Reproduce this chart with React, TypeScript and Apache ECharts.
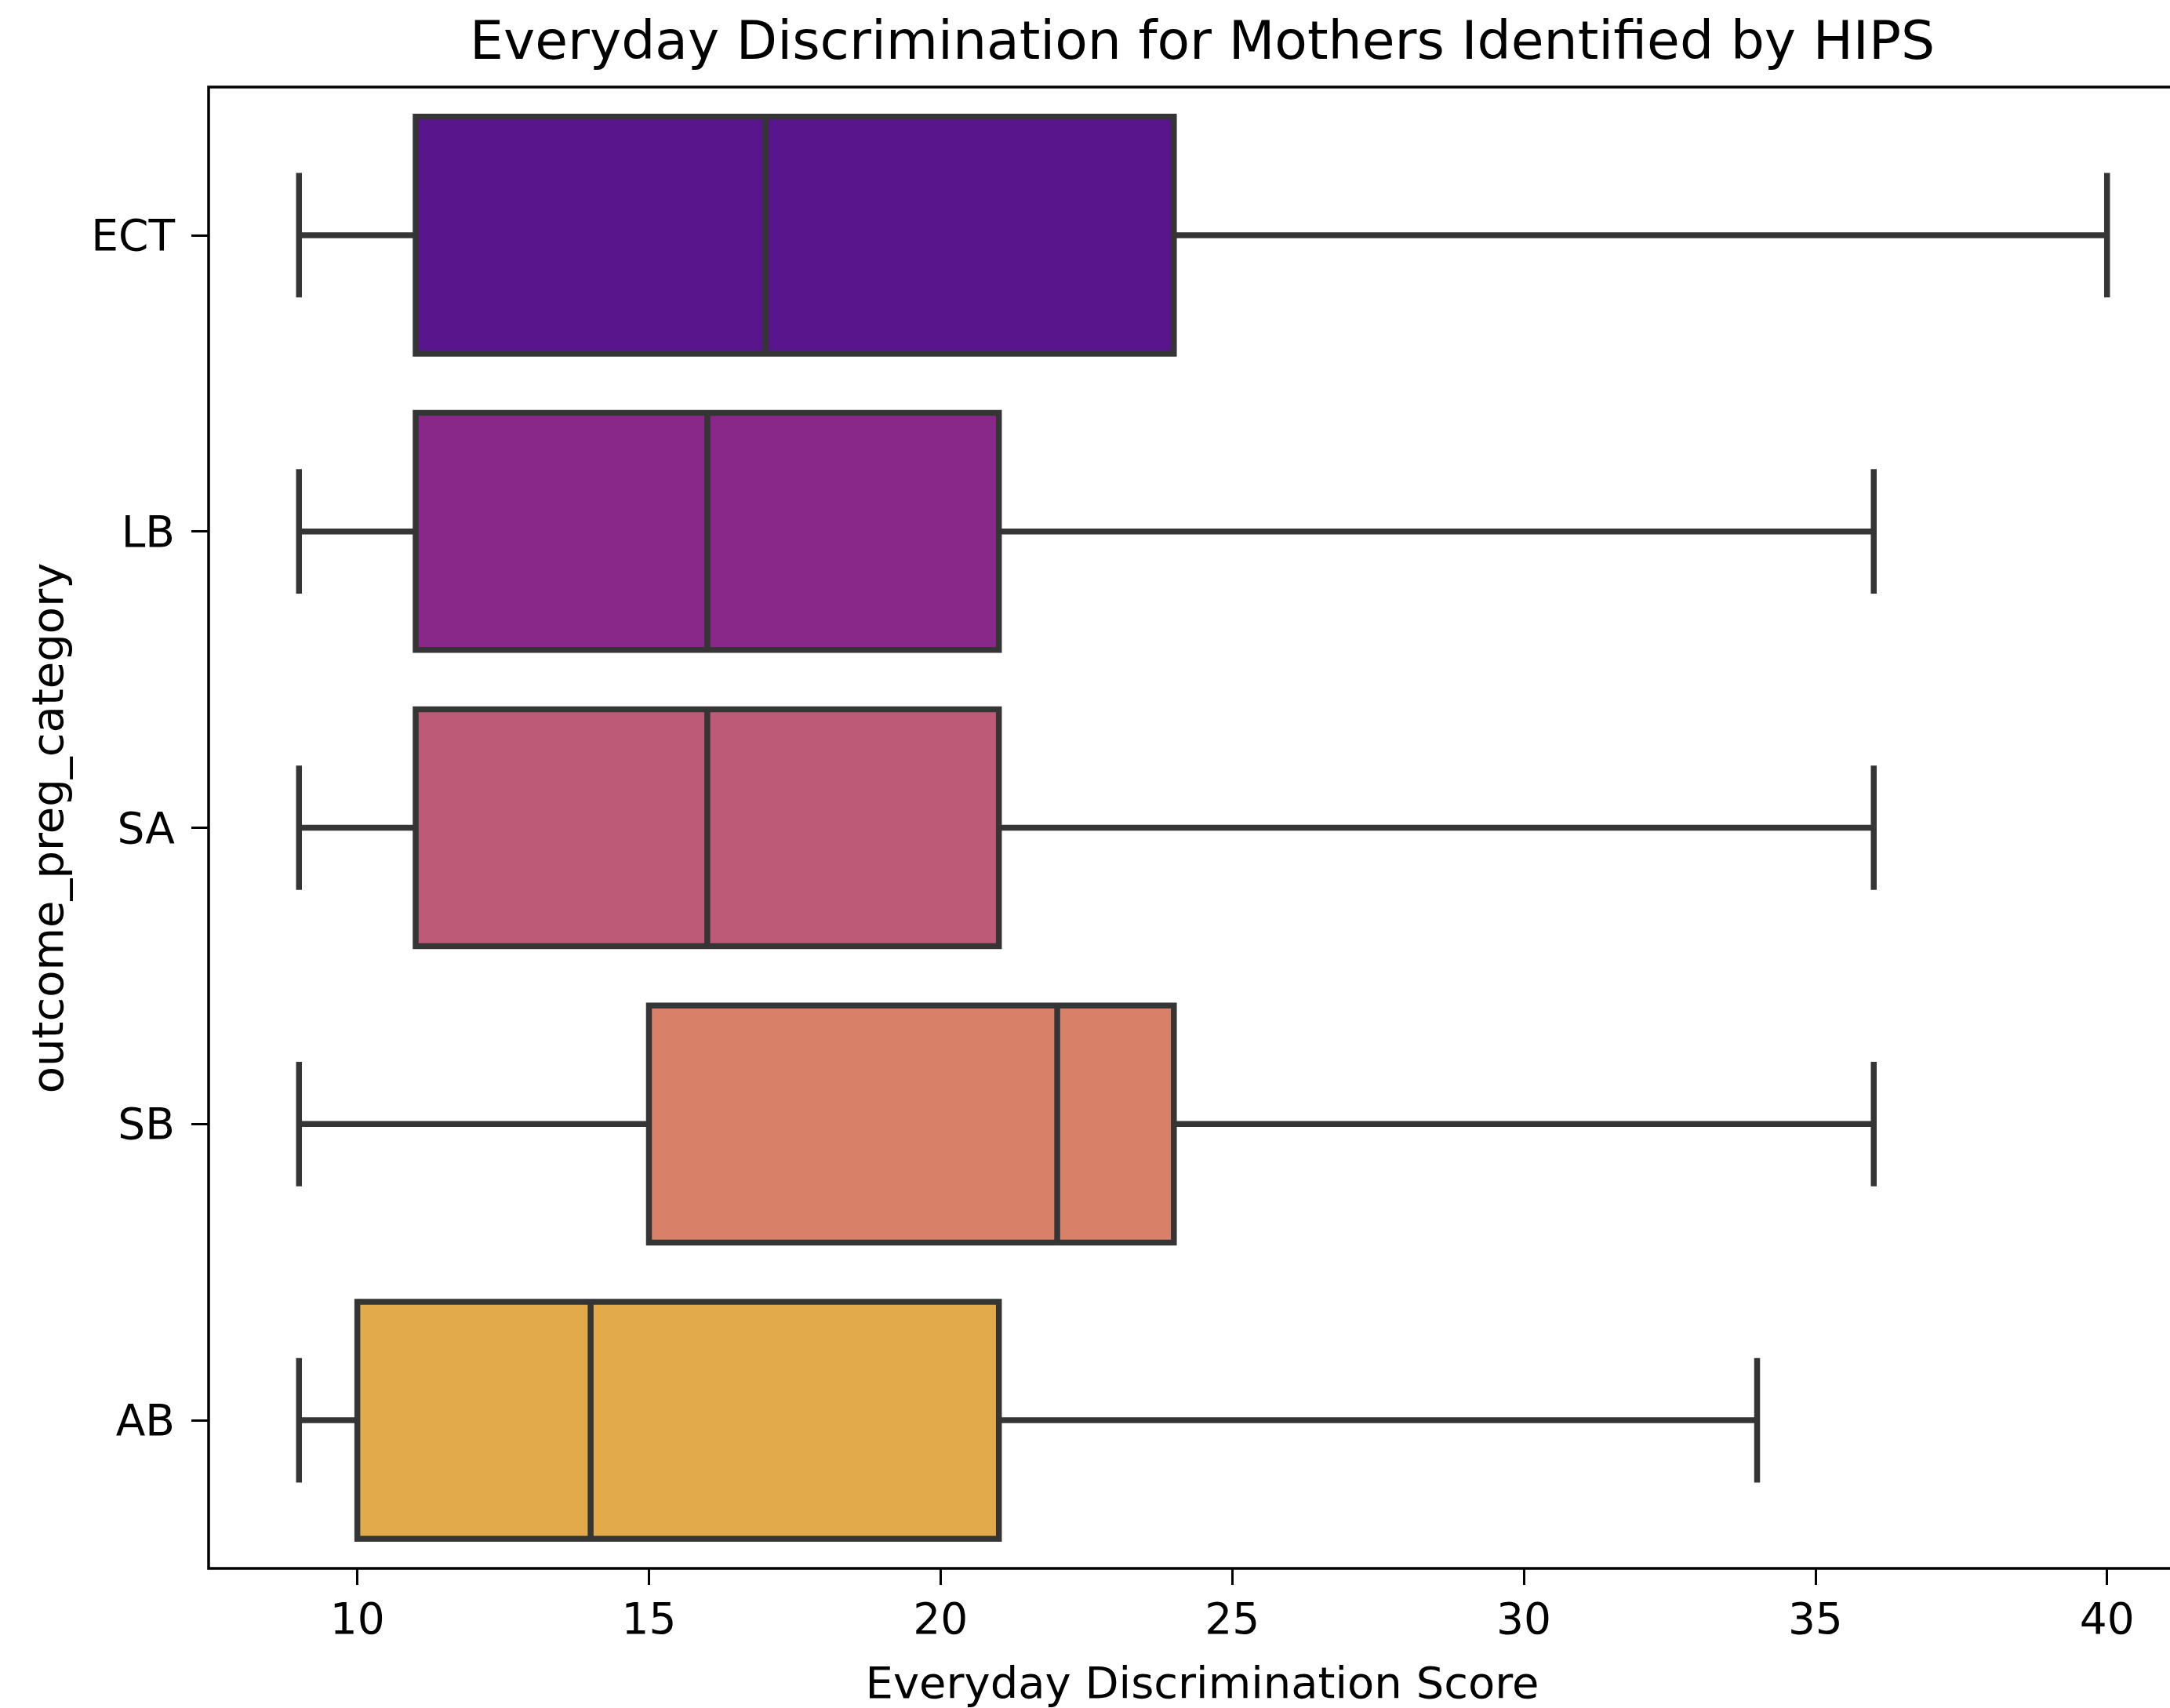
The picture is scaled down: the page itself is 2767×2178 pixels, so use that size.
import React, { useEffect, useRef } from "react";
import * as echarts from "echarts";

const categories = ["ECT", "LB", "SA", "SB", "AB"];
const whiskerLow = [9, 9, 9, 9, 9];
const q1 = [11, 11, 11, 15, 10];
const median = [17, 16, 16, 22, 14];
const q3 = [24, 21, 21, 24, 21];
const whiskerHigh = [40, 36, 36, 36, 34];
const boxColors = ["#59168c", "#8a2889", "#bc5a78", "#d88068", "#e2aa4a"];
const xTicks = [10, 15, 20, 25, 30, 35, 40];

const titleText = "Everyday Discrimination for Mothers Identified by HIPS";
const xLabel = "Everyday Discrimination Score";
const yLabel = "outcome_preg_category";

const FONT = "DejaVu Sans";
const LINE = "#353535";
const LW = 7.5;
const CHART_W = 2830;

export default function App() {
  const ref = useRef<HTMLDivElement>(null);
  useEffect(() => {
    if (!ref.current) return;
    const chart = echarts.init(ref.current, undefined, { renderer: "svg" });
    const data = categories.map((_, i) => [i, whiskerLow[i], q1[i], median[i], q3[i], whiskerHigh[i]]);
    chart.setOption({
      animation: false,
      backgroundColor: "#ffffff",
      grid: {
        left: 266,
        top: 111,
        right: CHART_W - 2802,
        bottom: 178,
        show: true,
        borderColor: "#000000",
        borderWidth: 3.5,
        backgroundColor: "transparent",
      },
      xAxis: {
        type: "value",
        min: 7.45,
        max: 41.55,
        splitLine: { show: false },
        axisLine: { show: false },
        axisTick: {
          show: true,
          length: 21,
          lineStyle: { color: "#000", width: 3 },
          customValues: xTicks,
        },
        axisLabel: {
          customValues: xTicks,
          fontFamily: FONT,
          fontSize: 55,
          color: "#000",
          margin: 36,
        },
      },
      yAxis: {
        type: "category",
        data: categories,
        inverse: true,
        splitLine: { show: false },
        axisLine: { show: false },
        axisTick: {
          show: true,
          alignWithLabel: true,
          length: 22,
          lineStyle: { color: "#000", width: 3 },
        },
        axisLabel: {
          fontFamily: FONT,
          fontSize: 55,
          color: "#000",
          margin: 43,
        },
      },
      graphic: [
        {
          type: "text",
          x: 1533,
          y: 51,
          style: {
            text: titleText,
            font: `68px "${FONT}"`,
            fill: "#000",
            align: "center",
            verticalAlign: "middle",
          },
        },
        {
          type: "text",
          x: 1533,
          y: 2145,
          style: {
            text: xLabel,
            font: `56px "${FONT}"`,
            fill: "#000",
            align: "center",
            verticalAlign: "middle",
          },
        },
        {
          type: "text",
          x: 60,
          y: 1056,
          rotation: Math.PI / 2,
          style: {
            text: yLabel,
            font: `56px "${FONT}"`,
            fill: "#000",
            align: "center",
            verticalAlign: "middle",
          },
        },
      ],
      series: [
        {
          type: "custom",
          data,
          encode: { x: [1, 2, 3, 4, 5], y: 0 },
          clip: false,
          renderItem: (params: any, api: any) => {
            const i = api.value(0);
            const band = api.size([0, 1])[1];
            const pLow = api.coord([api.value(1), i]);
            const pQ1 = api.coord([api.value(2), i]);
            const pMed = api.coord([api.value(3), i]);
            const pQ3 = api.coord([api.value(4), i]);
            const pHigh = api.coord([api.value(5), i]);
            const yc = pLow[1];
            const half = band * 0.4;
            const cap = band * 0.21;
            const ls = { stroke: LINE, lineWidth: LW, lineCap: "butt" };
            return {
              type: "group",
              children: [
                { type: "line", shape: { x1: pLow[0], y1: yc, x2: pQ1[0], y2: yc }, style: ls },
                { type: "line", shape: { x1: pQ3[0], y1: yc, x2: pHigh[0], y2: yc }, style: ls },
                { type: "line", shape: { x1: pLow[0], y1: yc - cap, x2: pLow[0], y2: yc + cap }, style: ls },
                { type: "line", shape: { x1: pHigh[0], y1: yc - cap, x2: pHigh[0], y2: yc + cap }, style: ls },
                {
                  type: "rect",
                  shape: { x: pQ1[0], y: yc - half, width: pQ3[0] - pQ1[0], height: half * 2 },
                  style: { fill: boxColors[i], stroke: LINE, lineWidth: LW, lineJoin: "miter" },
                },
                { type: "line", shape: { x1: pMed[0], y1: yc - half, x2: pMed[0], y2: yc + half }, style: ls },
              ],
            };
          },
        },
      ],
    });
    return () => chart.dispose();
  }, []);
  return (
    <div
      style={{
        position: "fixed",
        left: 0,
        top: 0,
        width: 2767,
        height: 2178,
        overflow: "hidden",
        background: "#fff",
      }}
    >
      <div ref={ref} style={{ position: "absolute", left: 0, top: 0, width: CHART_W, height: 2178 }} />
    </div>
  );
}
